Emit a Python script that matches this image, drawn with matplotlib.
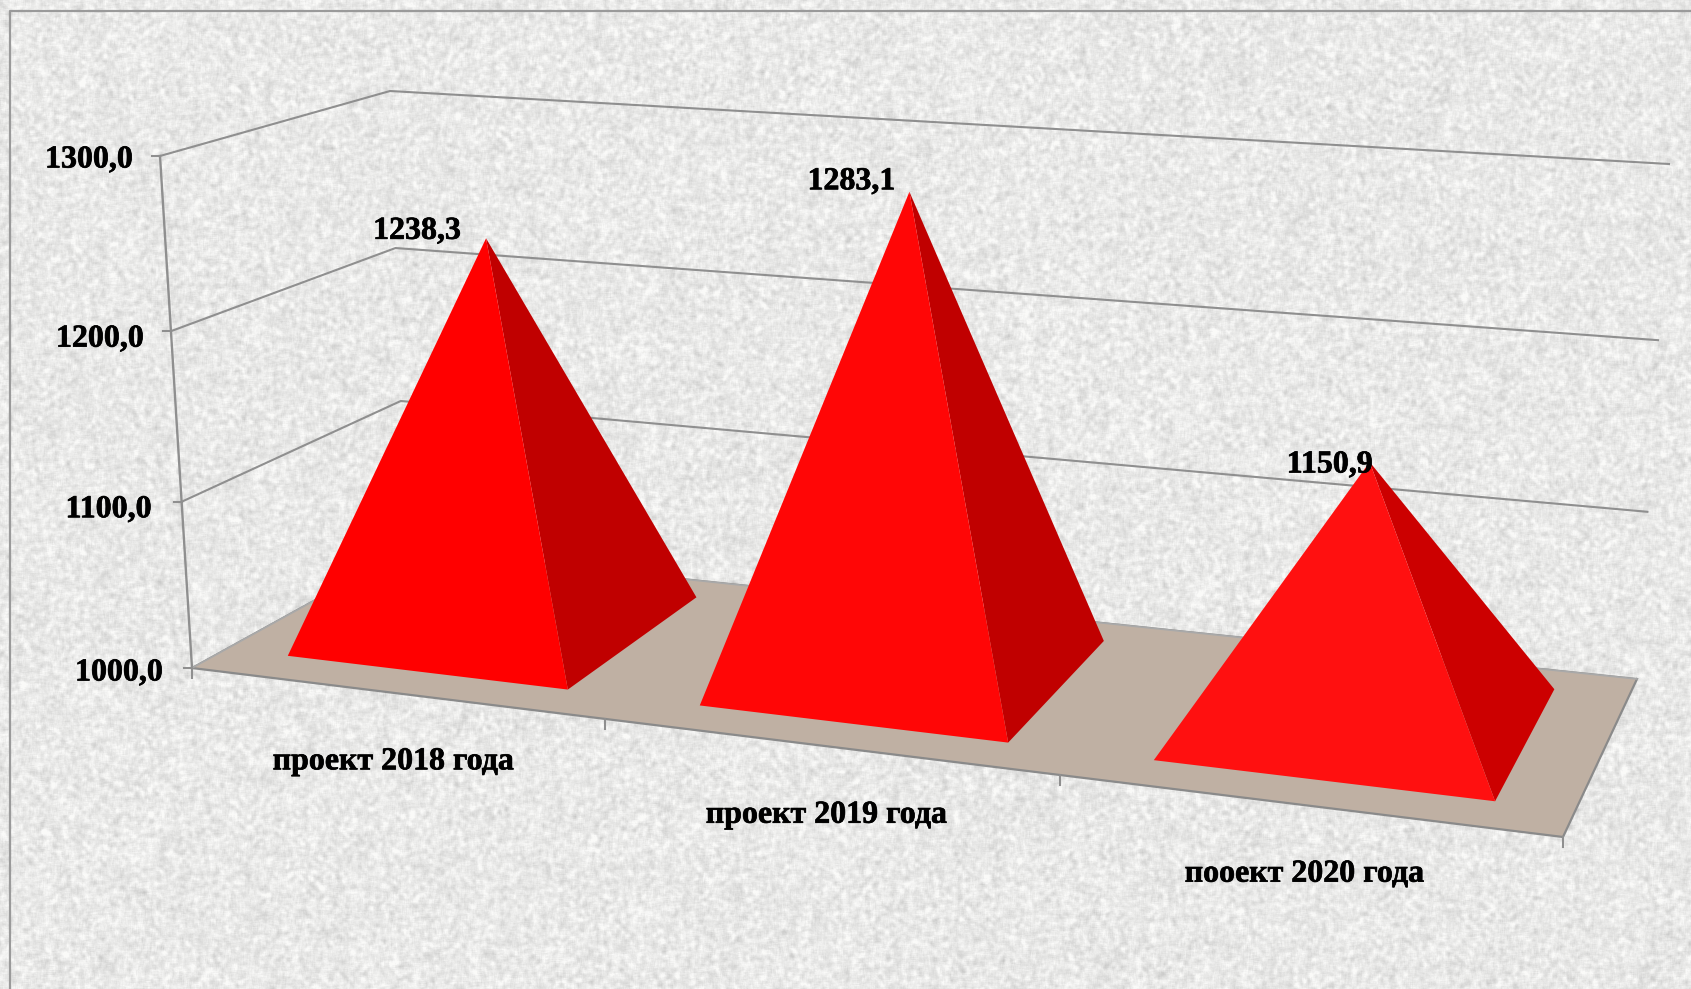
#!/usr/bin/env python3
# -*- coding: utf-8 -*-
import numpy as np
import matplotlib
matplotlib.use('Agg')
import matplotlib.pyplot as plt
import matplotlib.patheffects as pe
from matplotlib.patches import Polygon

# dados do grafico
categorias = ['проект 2018 года', 'проект 2019 года', 'пооект 2020 года']
valores = [1238.3, 1283.1, 1150.9]
ticks_y = [1000.0, 1100.0, 1200.0, 1300.0]

# estilo de cada piramide
cor_frente = ['#ff0000', '#ff0606', '#ff1010']
cor_lado = ['#c00000', '#c00000', '#cc0000']
# deslocamento dos rotulos, em pixels
rotulo_dx = [-69, -58, -40]
rotulo_dy = [7, 10, -3]
tick_dx = [-29, -30, -27, -27]
tick_dy = [-5, -8, -8, -4]

LARGURA, ALTURA = 1691, 989
Y_MIN, Y_MAX = ticks_y[0], ticks_y[-1]
PERSP_X = 1.16
PERSP_Y = 1.04
GRADE = '#8f8f8f'

# cantos da caixa 3D em pixels da figura
CANTOS = {
    'fe_base': (192, 668), 'fe_topo': (160, 156),
    'fd_base': (1563, 837), 'fd_topo': (1595, 263),
    'te_base': (406, 550), 'te_topo': (390, 91),
    'td_base': (1637, 679), 'td_topo': (1669, 164),
}


def projetar(u, d, valor):
    """u: posicao em categorias (0 a 3), d: profundidade (0 a 1), valor: eixo y"""
    u = u / len(categorias)
    s = u / (u + (1 - u) * PERSP_X)
    v = (valor - Y_MIN) / (Y_MAX - Y_MIN)
    v = v / (v + (1 - v) * PERSP_Y)
    c = {k: np.array(p, dtype=float) for k, p in CANTOS.items()}
    fe = c['fe_base'] + v * (c['fe_topo'] - c['fe_base'])
    fd = c['fd_base'] + v * (c['fd_topo'] - c['fd_base'])
    te = c['te_base'] + v * (c['te_topo'] - c['te_base'])
    td = c['td_base'] + v * (c['td_topo'] - c['td_base'])
    frente = fe + s * (fd - fe)
    fundo = te + s * (td - te)
    return tuple(frente + d * (fundo - frente))


def textura():
    # fundo cinza manchado, so decoracao
    yy, xx = np.mgrid[0:ALTURA, 0:LARGURA]
    ruido = np.sin(xx * 12.9898 + yy * 78.233) * 43758.5453
    ruido = ruido - np.floor(ruido)
    suave = np.zeros_like(ruido)
    for dx in range(-2, 3):
        for dy in range(-2, 3):
            suave += np.roll(np.roll(ruido, dx, axis=1), dy, axis=0)
    suave = (suave / 25 - 0.5) / 0.06
    fino = sum(np.roll(np.roll(ruido, dx, axis=1), dy, axis=0)
               for dx in (0, 1) for dy in (0, 1)) / 4 - 0.5
    cinza = 233 + 7 * suave + 8 * fino
    cinza = np.clip(cinza, 195, 250) / 255
    return np.dstack([cinza, cinza, cinza * 0.995])


fig = plt.figure(figsize=(LARGURA / 100, ALTURA / 100), dpi=100)
ax = fig.add_axes([0, 0, 1, 1])
ax.imshow(textura(), extent=(0, LARGURA, ALTURA, 0), interpolation='bilinear', zorder=0)
ax.set_xlim(0, LARGURA)
ax.set_ylim(ALTURA, 0)
ax.set_axis_off()

fonte = dict(family='Liberation Serif', fontweight='bold', color='black',
             path_effects=[pe.withStroke(linewidth=0.5, foreground='black')])
n = len(categorias)

# moldura
ax.plot([10, 10, LARGURA], [ALTURA, 11, 11], color='#9a9a9a', lw=1.6, zorder=1)

# linhas de grade nas paredes
for j, t in enumerate(ticks_y):
    pontos = [projetar(0, 0, t), projetar(0, 1, t), projetar(n, 1, t)]
    ax.plot(*zip(*pontos), color=GRADE, lw=1.5, zorder=2)
    x0, y0 = projetar(0, 0, t)
    ax.plot([x0 - 8, x0], [y0, y0], color=GRADE, lw=1.5, zorder=2)
    ax.annotate(f'{t:.1f}'.replace('.', ','), (x0, y0), xytext=(tick_dx[j], tick_dy[j]),
                textcoords='offset pixels', ha='right', va='center',
                fontsize=23, zorder=6, **fonte)
ax.plot(*zip(projetar(0, 0, Y_MIN), projetar(0, 0, Y_MAX)), color=GRADE, lw=1.7, zorder=2)

# piso
piso = [projetar(0, 0, Y_MIN), projetar(n, 0, Y_MIN), projetar(n, 1, Y_MIN), projetar(0, 1, Y_MIN)]
ax.add_patch(Polygon(piso, closed=True, facecolor='#bfb0a3', edgecolor='none', zorder=3))
ax.plot(*zip(piso[0], piso[1], piso[2]), color='#8a8a8a', lw=1.6, zorder=3)
ax.plot(*zip(piso[2], piso[3], piso[0]), color='#a9a9a9', lw=1.2, zorder=3)

# marcas do eixo x
for i in range(n + 1):
    x0, y0 = projetar(i, 0, Y_MIN)
    ax.plot([x0, x0], [y0, y0 + 10], color=GRADE, lw=1.5, zorder=3)

# piramides
for i, (nome, valor) in enumerate(zip(categorias, valores)):
    fe = projetar(i + 0.155, 0.165, Y_MIN)
    fd = projetar(i + 0.845, 0.165, Y_MIN)
    td = projetar(i + 0.845, 0.885, Y_MIN)
    topo = projetar(i + 0.5, 0.54, valor)
    ax.add_patch(Polygon([fd, td, topo], closed=True, facecolor=cor_lado[i], edgecolor='none', zorder=4))
    ax.add_patch(Polygon([fe, fd, topo], closed=True, facecolor=cor_frente[i], edgecolor='none', zorder=5))

    ax.annotate(f'{valor:.1f}'.replace('.', ','), topo, xytext=(rotulo_dx[i], rotulo_dy[i]),
                textcoords='offset pixels', ha='center', va='center',
                fontsize=23, zorder=6, **fonte)
    ax.annotate(nome, projetar(i + 0.5, 0, Y_MIN), xytext=(0, -69),
                textcoords='offset pixels', ha='center', va='center',
                fontsize=23, zorder=6, **fonte)

fig.savefig('out.png', dpi=100)
plt.close(fig)
